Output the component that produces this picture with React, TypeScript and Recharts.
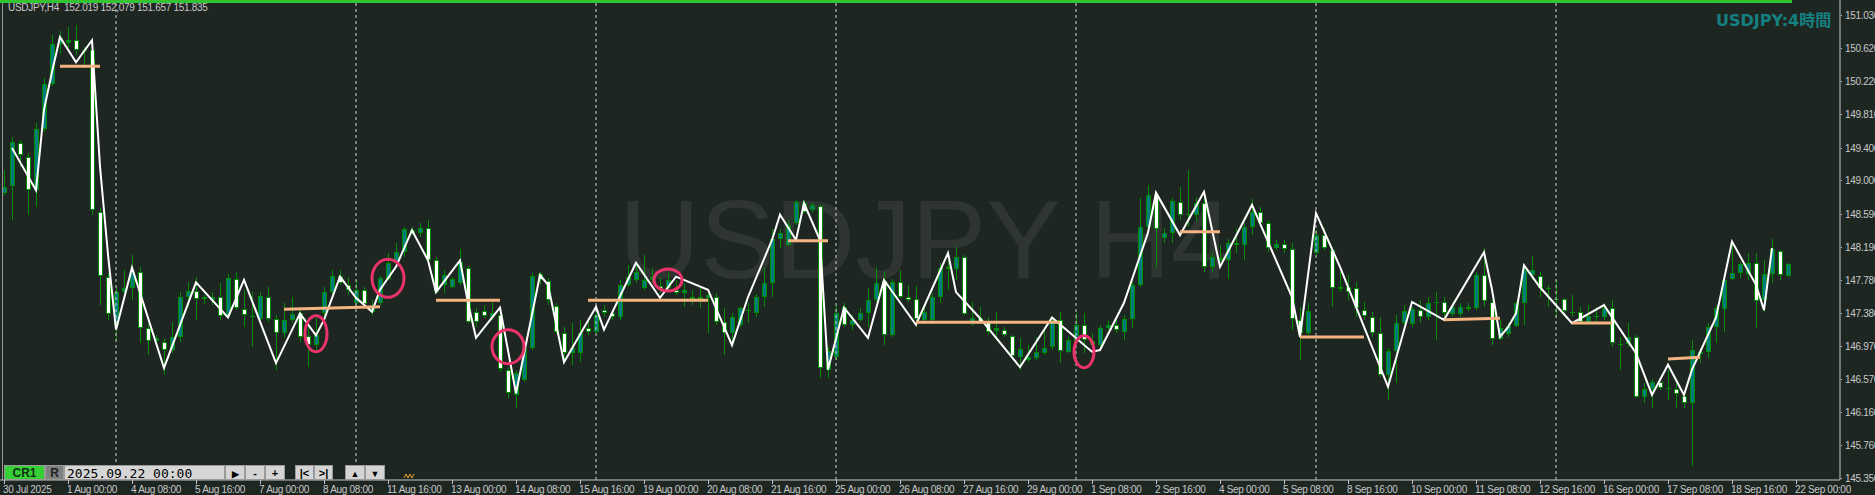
import React from "react";
import { ComposedChart, Bar, Line, XAxis, YAxis, ReferenceLine, ReferenceDot } from "recharts";

// ---------- DATA (USDJPY H4, bar 0 = 30 Jul 16:00) ----------
const openPrices = [
  148.85, 148.93, 149.46, 149.29, 148.88, 149.63, 150.18, 150.67, 150.69, 150.72,
  150.60, 150.60, 148.61, 147.82, 147.23, 147.63, 147.68, 147.88, 147.19, 147.03,
  147.02, 146.92, 147.08, 147.57, 147.64, 147.55, 147.53, 147.57, 147.35, 147.79,
  147.42, 147.34, 147.30, 147.57, 147.30, 147.13, 147.29, 147.37, 147.09, 146.98,
  147.37, 147.63, 147.83, 147.72, 147.50, 147.66, 147.39, 147.50, 147.79, 147.99,
  148.12, 148.39, 148.36, 148.42, 148.02, 147.72, 147.69, 147.74, 147.93, 147.39,
  147.40, 147.32, 147.35, 146.68, 146.37, 146.55, 146.94, 147.85, 147.77, 147.46,
  147.13, 146.88, 146.88, 147.19, 147.14, 147.41, 147.37, 147.32, 147.72, 147.78,
  147.68, 147.78, 147.70, 147.68, 147.66, 147.62, 147.55, 147.55, 147.56, 147.57,
  147.26, 147.13, 147.23, 147.40, 147.37, 147.57, 147.74, 148.28, 148.21, 148.48,
  148.72, 148.64, 148.69, 146.68, 146.83, 147.45, 147.23, 147.29, 147.37, 147.53,
  147.77, 147.10, 147.75, 147.57, 147.55, 147.29, 147.29, 147.57, 147.94, 147.91,
  148.06, 147.26, 147.31, 147.26, 147.15, 147.17, 147.09, 146.83, 146.80, 146.82,
  146.88, 146.96, 147.29, 146.90, 147.02, 147.23, 147.03, 146.98, 147.19, 147.23,
  147.14, 147.30, 147.72, 148.43, 148.82, 148.29, 148.36, 148.74, 148.58, 148.58,
  148.72, 147.94, 148.05, 148.02, 148.23, 148.21, 148.43, 148.61, 148.48, 148.17,
  148.22, 148.16, 147.29, 147.13, 148.11, 148.33, 148.15, 147.67, 147.69, 147.68,
  147.41, 147.32, 147.13, 146.61, 146.91, 147.25, 147.24, 147.41, 147.32, 147.51,
  147.51, 147.36, 147.36, 147.45, 147.44, 147.84, 147.51, 147.06, 147.12, 147.22,
  147.50, 147.84, 147.83, 147.67, 147.55, 147.55, 147.39, 147.39, 147.26, 147.34,
  147.32, 147.44, 147.00, 147.00, 147.08, 146.34, 146.44, 146.53, 146.45, 146.44,
  146.36, 146.27, 146.87, 146.90, 147.20, 147.42, 147.79, 147.87, 147.85, 147.99,
  147.53, 147.85, 148.13, 147.83,
];
const highPrices = [
  149.13, 149.53, 149.50, 149.34, 149.70, 150.26, 150.79, 150.83, 150.88, 150.91,
  150.64, 150.64, 148.66, 147.87, 147.69, 147.90, 148.09, 147.94, 147.25, 147.10,
  147.07, 147.26, 147.63, 147.75, 147.82, 147.59, 147.63, 147.74, 147.85, 147.88,
  147.66, 147.63, 147.63, 147.69, 147.35, 147.50, 147.57, 147.44, 147.20, 147.31,
  147.69, 147.90, 147.90, 147.82, 147.78, 147.69, 147.53, 147.83, 148.11, 148.23,
  148.43, 148.43, 148.48, 148.52, 148.06, 147.90, 147.82, 148.16, 147.95, 147.44,
  147.47, 147.51, 147.44, 146.71, 146.68, 146.97, 147.87, 147.88, 147.80, 147.50,
  147.20, 147.25, 147.29, 147.26, 147.45, 147.47, 147.41, 147.78, 147.96, 147.99,
  148.09, 147.93, 147.80, 147.87, 147.78, 147.74, 147.66, 147.68, 147.62, 147.62,
  147.44, 147.37, 147.45, 147.50, 147.61, 147.93, 148.40, 148.40, 148.52, 148.76,
  148.76, 148.72, 148.70, 146.96, 147.46, 147.50, 147.35, 147.44, 147.68, 147.94,
  147.88, 147.79, 147.90, 147.72, 147.70, 147.45, 147.62, 147.99, 148.11, 148.18,
  148.09, 147.51, 147.45, 147.32, 147.39, 147.20, 147.10, 147.07, 146.98, 147.08,
  147.19, 147.32, 147.39, 147.08, 147.37, 147.37, 147.13, 147.23, 147.29, 147.29,
  147.35, 147.75, 148.78, 148.94, 148.86, 148.42, 148.78, 148.92, 149.13, 148.80,
  148.86, 148.12, 148.21, 148.28, 148.42, 148.48, 148.77, 148.67, 148.52, 148.27,
  148.27, 148.23, 147.45, 147.50, 148.39, 148.42, 148.18, 147.88, 147.84, 147.75,
  147.51, 147.39, 147.32, 146.94, 147.35, 147.47, 147.45, 147.53, 147.57, 147.63,
  147.57, 147.50, 147.50, 147.50, 147.88, 148.17, 147.53, 147.29, 147.25, 147.51,
  147.96, 148.07, 147.88, 147.72, 147.78, 147.56, 147.59, 147.45, 147.47, 147.45,
  147.50, 147.53, 147.08, 147.25, 147.10, 146.52, 146.56, 146.58, 146.68, 146.52,
  146.41, 147.04, 146.94, 147.25, 147.47, 147.82, 148.25, 148.00, 148.11, 148.11,
  148.02, 148.28, 148.15, 147.99,
];
const lowPrices = [
  148.82, 148.52, 149.17, 148.58, 148.67, 149.59, 150.16, 150.55, 150.62, 150.54,
  150.42, 148.58, 147.47, 147.29, 147.04, 147.53, 147.53, 147.01, 146.86, 146.98,
  146.61, 146.88, 147.02, 147.45, 147.29, 147.48, 147.47, 147.29, 147.32, 147.41,
  147.20, 146.96, 147.26, 147.26, 146.68, 147.07, 147.25, 147.02, 146.71, 146.92,
  147.32, 147.61, 147.72, 147.59, 147.44, 147.44, 147.35, 147.47, 147.78, 147.94,
  148.06, 148.33, 148.31, 148.00, 147.62, 147.62, 147.68, 147.72, 147.25, 147.20,
  147.31, 147.29, 146.65, 146.33, 146.21, 146.53, 146.92, 147.72, 147.47, 147.12,
  146.77, 146.74, 146.77, 147.10, 147.13, 147.32, 147.29, 147.29, 147.69, 147.74,
  147.66, 147.74, 147.62, 147.66, 147.59, 147.45, 147.47, 147.44, 147.13, 147.23,
  146.86, 146.98, 147.20, 147.25, 147.32, 147.45, 147.57, 148.17, 148.20, 148.45,
  148.60, 148.60, 146.58, 146.58, 146.80, 147.20, 147.17, 147.26, 147.20, 147.51,
  146.98, 147.08, 147.56, 147.51, 147.20, 147.26, 147.26, 147.50, 147.66, 147.78,
  147.35, 147.22, 147.24, 147.10, 147.08, 147.08, 146.80, 146.68, 146.77, 146.80,
  146.86, 146.92, 146.76, 146.88, 146.98, 146.88, 146.94, 146.96, 147.17, 147.13,
  147.04, 147.19, 147.69, 148.39, 147.93, 148.23, 148.23, 148.52, 148.43, 148.49,
  147.88, 147.88, 148.00, 147.79, 148.11, 148.02, 148.33, 148.43, 148.12, 148.15,
  148.11, 147.17, 146.80, 147.10, 148.09, 148.15, 147.45, 147.63, 147.53, 147.32,
  147.29, 147.08, 146.59, 146.31, 146.52, 147.23, 147.20, 147.25, 147.29, 147.04,
  147.32, 147.32, 147.32, 147.40, 147.41, 147.45, 146.98, 147.04, 147.08, 147.20,
  147.23, 147.78, 147.57, 147.45, 147.32, 147.35, 147.32, 147.25, 147.25, 147.26,
  147.29, 146.96, 146.68, 146.96, 146.33, 146.27, 146.21, 146.43, 146.31, 146.21,
  146.21, 145.50, 146.76, 146.82, 147.01, 147.14, 147.78, 147.80, 147.78, 147.19,
  147.39, 147.74, 147.78, 147.82,
];
const closePrices = [
  148.92, 149.47, 149.31, 148.88, 149.63, 150.18, 150.67, 150.75, 150.72, 150.60,
  150.59, 148.64, 147.83, 147.36, 147.63, 147.68, 147.88, 147.19, 147.03, 147.07,
  146.92, 147.08, 147.57, 147.64, 147.55, 147.57, 147.57, 147.34, 147.80, 147.44,
  147.35, 147.32, 147.58, 147.30, 147.13, 147.29, 147.36, 147.08, 146.98, 147.10,
  147.63, 147.83, 147.74, 147.66, 147.66, 147.48, 147.46, 147.80, 147.99, 148.12,
  148.40, 148.36, 148.42, 148.02, 147.63, 147.84, 147.79, 148.00, 147.26, 147.26,
  147.34, 147.37, 146.69, 146.39, 146.64, 146.94, 147.83, 147.78, 147.53, 147.14,
  146.88, 146.94, 147.13, 147.14, 147.35, 147.37, 147.32, 147.72, 147.82, 147.88,
  147.78, 147.82, 147.66, 147.78, 147.62, 147.66, 147.57, 147.57, 147.59, 147.26,
  147.13, 147.32, 147.44, 147.41, 147.57, 147.74, 148.28, 148.36, 148.45, 148.74,
  148.61, 148.70, 146.70, 146.91, 147.37, 147.23, 147.29, 147.37, 147.53, 147.74,
  147.10, 147.75, 147.57, 147.53, 147.30, 147.39, 147.57, 147.93, 147.91, 148.06,
  147.36, 147.31, 147.26, 147.14, 147.19, 147.10, 146.85, 146.93, 146.83, 146.90,
  146.94, 147.29, 146.91, 147.04, 147.23, 147.04, 146.98, 147.19, 147.23, 147.17,
  147.30, 147.72, 148.43, 148.82, 148.40, 148.36, 148.75, 148.58, 148.59, 148.72,
  147.94, 148.06, 148.02, 148.23, 148.21, 148.43, 148.61, 148.48, 148.17, 148.22,
  148.16, 147.30, 147.13, 147.40, 148.33, 148.17, 147.68, 147.69, 147.63, 147.44,
  147.34, 147.13, 146.61, 146.91, 147.25, 147.40, 147.42, 147.32, 147.50, 147.50,
  147.37, 147.45, 147.45, 147.42, 147.84, 147.52, 147.06, 147.19, 147.22, 147.50,
  147.90, 147.90, 147.68, 147.68, 147.55, 147.40, 147.39, 147.26, 147.34, 147.34,
  147.44, 147.01, 147.00, 147.08, 146.34, 146.44, 146.53, 146.45, 146.45, 146.38,
  146.27, 146.92, 146.90, 147.20, 147.44, 147.78, 147.87, 147.98, 147.99, 147.52,
  147.85, 148.16, 147.84, 147.98,
];

// white swing line: bar index + price at each vertex
const zigzagIndex = [
  1, 4, 5, 6, 7, 9, 11, 12, 13, 14, 16, 20, 24, 28, 30, 34, 37, 39, 40, 42, 44, 46, 47, 49, 51, 53, 54,
  57, 58, 59, 62, 64, 67, 68, 70, 74, 75, 79, 82, 84, 88, 91, 93, 96, 97, 99, 100, 102, 103, 105, 108,
  110, 114, 118, 119, 122, 127, 131, 136, 137, 140, 143, 144, 147, 150, 152, 156, 161, 162, 164, 167,
  173, 176, 180, 185, 186, 187, 188, 189, 190, 192, 196, 200, 204, 206, 208, 210, 211, 214, 216, 219,
  220, 221,
];
const zigzagPrice = [
  149.40, 148.88, 149.87, 150.33, 150.76, 150.45, 150.72, 149.17, 148.09, 147.17, 147.93, 146.70, 147.75,
  147.32, 147.78, 146.76, 147.37, 147.10, 147.29, 147.82, 147.56, 147.39, 147.66, 147.94, 148.39, 148.02,
  147.63, 148.02, 147.50, 147.07, 147.44, 146.39, 147.84, 147.72, 146.77, 147.45, 147.17, 147.99, 147.56,
  147.82, 147.66, 146.98, 147.57, 148.27, 148.58, 148.27, 148.72, 148.27, 146.68, 147.44, 147.07, 147.78,
  147.23, 148.11, 147.63, 147.31, 146.71, 147.32, 146.90, 146.92, 147.50, 148.36, 148.85, 148.33, 148.86,
  147.94, 148.70, 147.57, 147.08, 148.60, 147.94, 146.47, 147.51, 147.29, 148.12, 147.66, 147.08, 147.20,
  147.37, 147.96, 147.69, 147.25, 147.47, 146.88, 146.37, 146.74, 146.37, 146.68, 147.32, 148.25, 147.72,
  147.41, 148.17,
];

// orange horizontal levels: from bar, to bar, price at start, price at end
const levelFrom = [7, 35, 54, 73, 98, 114, 147, 162, 180, 196, 208];
const levelTo = [12, 47, 62, 88, 103, 132, 152, 170, 187, 201, 212];
const levelStart = [150.40, 147.42, 147.53, 147.53, 148.26, 147.26, 148.37, 147.08, 147.29, 147.25, 146.81];
const levelEnd = [150.40, 147.45, 147.53, 147.53, 148.26, 147.26, 148.37, 147.08, 147.31, 147.25, 146.83];

// pink marker ellipses (bar index, price)
const markIndex = [39, 48, 63, 83, 135];
const markPrice = [147.12, 147.8, 146.96, 147.78, 146.9];

// axis ticks
const xTickIndex = [0, 8, 16, 24, 32, 40, 48, 56, 64, 72, 80, 88, 96, 104, 112, 120, 128, 136, 144, 152, 160, 168, 176, 184, 192, 200, 208, 216, 224];
const xTickLabels = [
  "30 Jul 2025", "1 Aug 00:00", "4 Aug 08:00", "5 Aug 16:00", "7 Aug 00:00", "8 Aug 08:00", "11 Aug 16:00",
  "13 Aug 00:00", "14 Aug 08:00", "15 Aug 16:00", "19 Aug 00:00", "20 Aug 08:00", "21 Aug 16:00",
  "25 Aug 00:00", "26 Aug 08:00", "27 Aug 16:00", "29 Aug 00:00", "1 Sep 08:00", "2 Sep 16:00",
  "4 Sep 00:00", "5 Sep 08:00", "8 Sep 16:00", "10 Sep 00:00", "11 Sep 08:00", "12 Sep 16:00",
  "16 Sep 00:00", "17 Sep 08:00", "18 Sep 16:00", "22 Sep 00:00",
];
const priceTicks = [151.03, 150.62, 150.22, 149.81, 149.4, 149.0, 148.59, 148.19, 147.78, 147.38, 146.97, 146.57, 146.16, 145.76, 145.35];
const priceTickLabels = ["151.030", "150.620", "150.220", "149.810", "149.400", "149.000", "148.590", "148.190", "147.780", "147.380", "146.970", "146.570", "146.160", "145.760", "145.350"];
const weekSeparators = [14, 44, 74, 104, 134, 164, 194];

// ---------- STYLE ----------
const BG = "#1e2622";
const AXIS = "#c4c4c4";
const TEXT = "#c8c8c8";
const WICK = "#008c00";
const UP_FILL = "#007f7a";
const DOWN_FILL = "#ffffff";
const LEVEL = "#f5b482";
const MARK = "#e8336b";
const FONT = "'Liberation Sans', Arial, sans-serif";
const SLOTS = 230;
const PRICE_MIN = 145.3255;
const PRICE_MAX = 151.214;
const markRx = [11, 16, 16, 14, 10];
const markRy = [18, 19, 17, 11, 16];

type Row = { i: number; o: number | null; h: number | null; l: number | null; c: number | null; zz: number | null };

const rows: Row[] = Array.from({ length: SLOTS }, (_, i) => ({
  i,
  o: i < openPrices.length ? openPrices[i] : null,
  h: i < highPrices.length ? highPrices[i] : null,
  l: i < lowPrices.length ? lowPrices[i] : null,
  c: i < closePrices.length ? closePrices[i] : null,
  zz: null,
}));
zigzagIndex.forEach((ix, k) => {
  rows[ix].zz = zigzagPrice[k];
});

const xLabelMap: Record<number, string> = {};
xTickIndex.forEach((ix, k) => {
  xLabelMap[ix] = xTickLabels[k];
});

function Candle(props: any) {
  const { x, y, width, height, payload } = props;
  if (!payload || payload.o == null || payload.h == null) return null;
  const { o, h, l, c } = payload as { o: number; h: number; l: number; c: number };
  const span = h - l;
  const ppu = span > 0 ? height / span : 0;
  const py = (v: number) => y + (h - v) * ppu;
  const cx = Math.floor(x + width / 2);
  const yh = Math.round(py(h));
  const yl = Math.round(py(l));
  const top = Math.round(py(Math.max(o, c)));
  const bot = Math.round(py(Math.min(o, c)));
  const up = c > o;
  return (
    <g>
      <rect x={cx} y={yh} width={1} height={Math.max(1, yl - yh)} fill={WICK} />
      {bot - top >= 2 ? (
        <rect x={cx - 1.5} y={top + 0.5} width={4} height={bot - top - 1} fill={up ? UP_FILL : DOWN_FILL} stroke={WICK} strokeWidth={1} />
      ) : (
        <rect x={cx - 2} y={top} width={5} height={Math.max(1, bot - top)} fill={WICK} />
      )}
    </g>
  );
}

function XTick(props: any) {
  const { x, y, payload } = props;
  const label = xLabelMap[payload.value];
  if (!label) return null;
  const px = Math.floor(x);
  return (
    <g>
      <rect x={px} y={y} width={1} height={4} fill={AXIS} />
      <text x={px - 1} y={y + 13} fill={TEXT} fontSize={10} fontFamily={FONT} letterSpacing={-0.3}>
        {label}
      </text>
    </g>
  );
}

function YTick(props: any) {
  const { x, y, payload } = props;
  const k = priceTicks.indexOf(payload.value);
  if (k < 0) return null;
  return (
    <g>
      <rect x={x - 4} y={Math.round(y)} width={1} height={1} fill={AXIS} />
      <text x={x} y={y + 4} fill={TEXT} fontSize={10} fontFamily={FONT} letterSpacing={-0.3}>
        {priceTickLabels[k]}
      </text>
    </g>
  );
}

function Btn({ x, w, label, fill = "#d4d4d4", color = "#000", font = 11 }: { x: number; w: number; label: string; fill?: string; color?: string; font?: number }) {
  return (
    <g>
      <rect x={x + 0.5} y={465.5} width={w - 1} height={14} fill={fill} stroke="#9a9a9a" />
      <text x={x + w / 2} y={476.5} textAnchor="middle" fill={color} fontSize={font} fontFamily={FONT} fontWeight="bold">
        {label}
      </text>
    </g>
  );
}

export default function App() {
  return (
    <div style={{ position: "absolute", left: 0, top: 0, width: 1875, height: 495, background: BG, overflow: "hidden" }}>
      <style>{`body{margin:0;background:${BG}}`}</style>
      <svg width={1875} height={495} style={{ position: "absolute", left: 0, top: 0 }}>
        <text x={619} y={278} fontSize={112} fontFamily={FONT} fill="#2f3632">
          USDJPY H4
        </text>
      </svg>
      <div style={{ position: "absolute", left: 0, top: 0 }}>
        <ComposedChart
          width={1875}
          height={495}
          data={rows}
          margin={{ top: 0, right: 0, bottom: 0, left: 0 }}
          barCategoryGap={0}
          barGap={0}
        >
          <XAxis
            dataKey="i"
            ticks={xTickIndex}
            interval={0}
            height={15}
            tickSize={0}
            tickMargin={0}
            tickLine={false}
            axisLine={{ stroke: AXIS }}
            tick={<XTick />}
          />
          <YAxis
            orientation="right"
            width={35}
            type="number"
            domain={[PRICE_MIN, PRICE_MAX]}
            allowDataOverflow
            ticks={priceTicks}
            interval={0}
            tickSize={0}
            tickMargin={5}
            tickLine={false}
            axisLine={{ stroke: AXIS }}
            tick={<YTick />}
          />
          {weekSeparators.map((ix) => (
            <ReferenceLine key={"w" + ix} x={ix} stroke="#d0d0d0" strokeDasharray="3 3" strokeWidth={1} />
          ))}
          <Bar
            dataKey={(d: Row) => (d.o == null ? null : [d.l, d.h])}
            shape={(p: any) => <Candle {...p} />}
            isAnimationActive={false}
          />
          <Line
            dataKey="zz"
            type="linear"
            stroke="#ffffff"
            strokeWidth={2}
            dot={false}
            connectNulls
            isAnimationActive={false}
          />
          {levelFrom.map((f, k) => (
            <ReferenceLine
              key={"lv" + k}
              segment={[
                { x: f, y: levelStart[k] },
                { x: levelTo[k], y: levelEnd[k] },
              ]}
              stroke={LEVEL}
              strokeWidth={3}
              ifOverflow="visible"
            />
          ))}
          {markIndex.map((ix, k) => (
            <ReferenceDot
              key={"mk" + k}
              x={ix}
              y={markPrice[k]}
              r={10}
              ifOverflow="visible"
              shape={(p: any) => (
                <ellipse cx={p.cx} cy={p.cy} rx={markRx[k]} ry={markRy[k]} fill="none" stroke={MARK} strokeWidth={3} />
              )}
            />
          ))}
        </ComposedChart>
      </div>
      <svg width={1875} height={495} style={{ position: "absolute", left: 0, top: 0, pointerEvents: "none" }}>
        <rect x={0} y={0} width={1792} height={3} fill="#33c433" />
        <rect x={2} y={3} width={1} height={477} fill="#9a9a9a" />
        <text x={8} y={11} fontSize={10} fontFamily={FONT} fill={TEXT} letterSpacing={-0.3} style={{ whiteSpace: "pre" }}>
          {"USDJPY,H4  152.019 152,079 151.657 151.835"}
        </text>
        <text x={1716} y={26} fontSize={16} fontWeight="bold" fontFamily="'DejaVu Sans', 'Noto Sans CJK JP', sans-serif" fill="#148080">
          USDJPY:4時間
        </text>
        <Btn x={4} w={41} label="CR1" fill="#35d035" color="#103010" font={12} />
        <Btn x={45} w={19} label="R" fill="#808080" color="#202020" font={12} />
        <rect x={64.5} y={465.5} width={160} height={14} fill="#d6d6d6" stroke="#9a9a9a" />
        <text x={67} y={477.5} fontSize={13} fontFamily="'DejaVu Sans Mono', monospace" fill="#000">
          2025.09.22 00:00
        </text>
        <Btn x={225} w={20} label="▶" font={9} />
        <Btn x={245} w={20} label="-" />
        <Btn x={265} w={20} label="+" />
        <Btn x={295} w={19} label="|<" />
        <Btn x={314} w={19} label=">|" />
        <Btn x={345} w={20} label="▲" font={9} />
        <Btn x={365} w={20} label="▼" font={9} />
        <polyline points="404,478 406,474 408,478 410,474 412,478 414,474" fill="none" stroke="#e8a030" strokeWidth={1} />
      </svg>
    </div>
  );
}
